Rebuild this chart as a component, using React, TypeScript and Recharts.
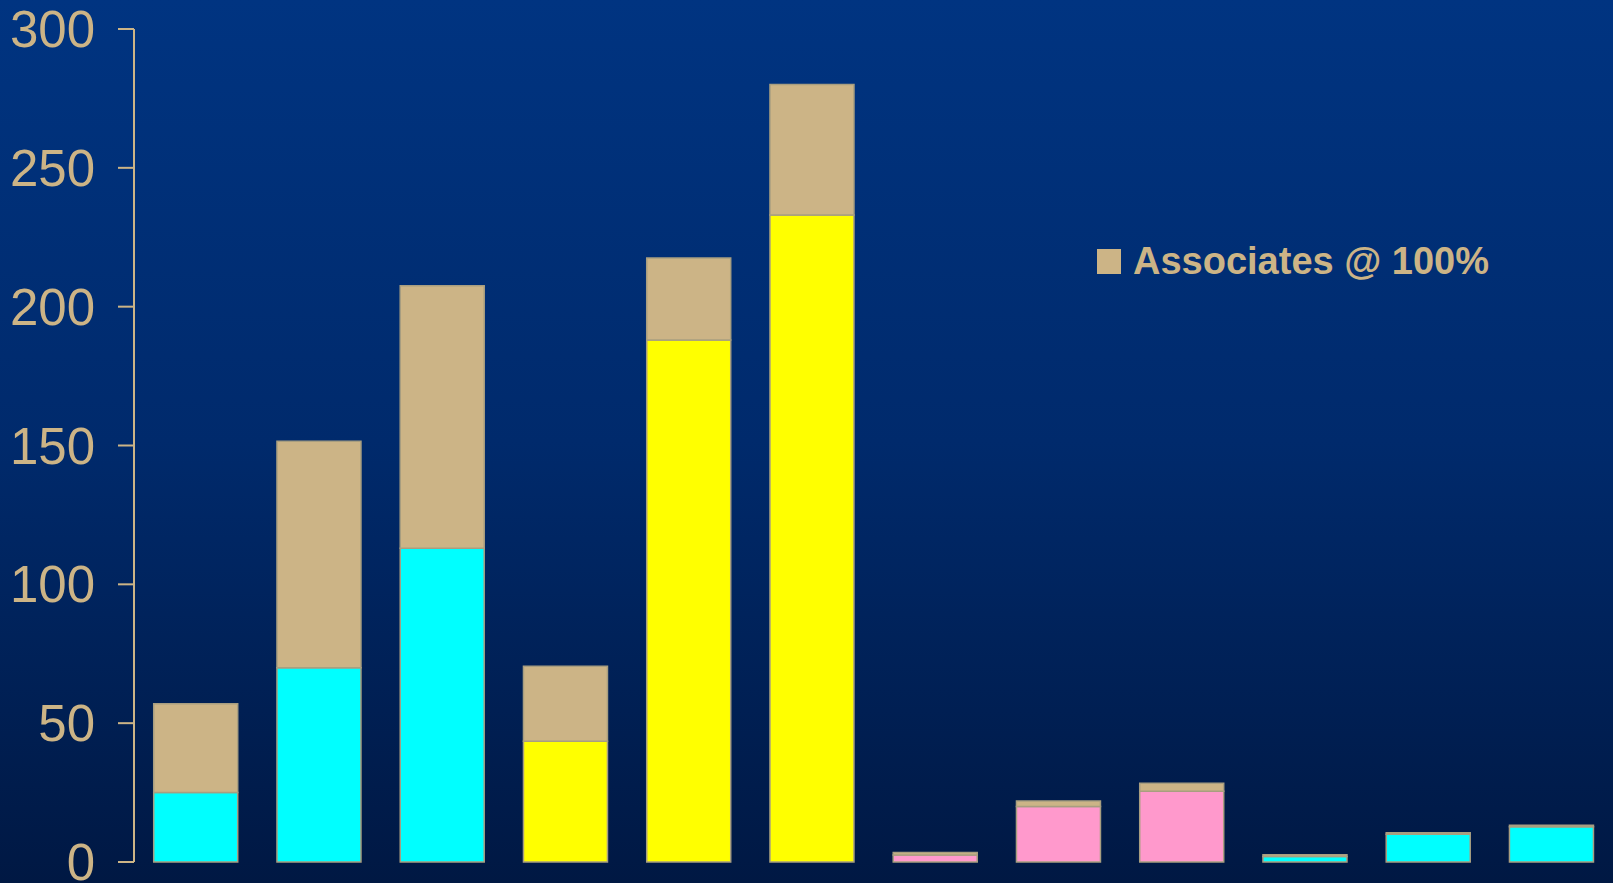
import { BarChart, Bar, XAxis, YAxis, Cell, Legend } from "recharts"

// twelve groups, no labels on the x axis in the original
const categories = ["g1", "g2", "g3", "g4", "g5", "g6", "g7", "g8", "g9", "g10", "g11", "g12"]
const baseValues = [25, 70, 113, 43.5, 188, 233, 2.5, 20, 25.5, 2, 10, 12.7]
const associateValues = [32, 81.5, 94.5, 27, 29.5, 47, 0.9, 2, 2.9, 0.6, 0.5, 0.5]
const baseColors = [
  "#00ffff", "#00ffff", "#00ffff",
  "#ffff00", "#ffff00", "#ffff00",
  "#ff99cc", "#ff99cc", "#ff99cc",
  "#00ffff", "#00ffff", "#00ffff",
]
const yTicks = [0, 50, 100, 150, 200, 250, 300]

const TAN = "#ccb486"
const OUTLINE = "#a89e80"

const data = categories.map((name, i) => ({
  name,
  base: baseValues[i],
  associates: associateValues[i],
}))

function LegendContent() {
  return (
    <div style={{ display: "flex", alignItems: "center" }}>
      <div style={{ width: 24, height: 25, background: TAN, marginRight: 12 }} />
      <span
        style={{
          color: TAN,
          fontFamily: "'Liberation Sans', Arial, sans-serif",
          fontWeight: "bold",
          fontSize: 38,
          lineHeight: "38px",
        }}
      >
        Associates @ 100%
      </span>
    </div>
  )
}

export default function App() {
  return (
    <div
      style={{
        position: "absolute",
        left: 0,
        top: 0,
        width: 1613,
        height: 883,
        background: "linear-gradient(to bottom, #003481 0%, #002a6c 50%, #001843 100%)",
        fontFamily: "'Liberation Sans', Arial, sans-serif",
      }}
    >
      <BarChart
        width={1613}
        height={883}
        data={data}
        margin={{ top: 29, right: 0, bottom: 21, left: 0 }}
        barCategoryGap="16%"
      >
        <XAxis
          dataKey="name"
          tick={false}
          tickLine={false}
          height={0}
          axisLine={{ stroke: OUTLINE, strokeWidth: 2 }}
        />
        <YAxis
          domain={[0, 300]}
          ticks={yTicks}
          width={134}
          tickSize={16}
          tickMargin={23}
          axisLine={{ stroke: TAN, strokeWidth: 2 }}
          tickLine={{ stroke: TAN, strokeWidth: 2 }}
          tick={{ fill: TAN, fontSize: 51, fontFamily: "'Liberation Sans', Arial, sans-serif" }}
          interval={0}
        />
        {/* center + middle so the legend does not take space from the plot */}
        <Legend
          verticalAlign="middle"
          align="center"
          layout="horizontal"
          content={<LegendContent />}
          wrapperStyle={{ position: "absolute", left: 1097, top: 242, width: "auto" }}
        />
        <Bar dataKey="base" stackId="a" stroke={OUTLINE} strokeWidth={1.5} isAnimationActive={false} legendType="none">
          {data.map((d, i) => (
            <Cell key={d.name} fill={baseColors[i]} />
          ))}
        </Bar>
        <Bar
          dataKey="associates"
          name="Associates @ 100%"
          stackId="a"
          fill={TAN}
          stroke={OUTLINE}
          strokeWidth={1.5}
          isAnimationActive={false}
        />
      </BarChart>
    </div>
  )
}
